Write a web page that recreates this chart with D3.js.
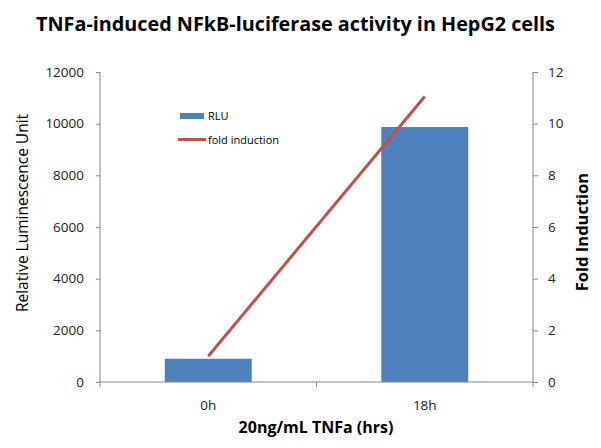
<!DOCTYPE html>
<html><head><meta charset="utf-8">
<script src="https://cdn.jsdelivr.net/npm/d3@7"></script>
<style>body{margin:0;background:#fff}svg{display:block}text{font-family:"Open Sans","Noto Sans",sans-serif}</style>
</head><body><svg id="c" width="601" height="448"></svg>
<script>
const categories = ["0h", "18h"];
const rluValues = [900, 9870];
const foldValues = [1.0, 11.05];
const leftTicks = [0, 2000, 4000, 6000, 8000, 10000, 12000];
const rightTicks = [0, 2, 4, 6, 8, 10, 12];
const titleText = "TNFa-induced NFkB-luciferase activity in HepG2 cells";

const svg = d3.select("#c");
const m = {l: 100, r: 533, t: 72, b: 382};
const axisColor = "#868686";
const xc = d3.scaleBand().domain(categories).range([m.l, m.r]);
const yL = d3.scaleLinear().domain([0, 12000]).range([m.b, m.t]);
const yR = d3.scaleLinear().domain([0, 12]).range([m.b, m.t]);

svg.append("text").attr("x", 295.5).attr("y", 31).attr("text-anchor", "middle")
  .attr("font-size", 19.8).attr("font-weight", "bold").attr("fill", "#000").text(titleText);

// bars
svg.selectAll("rect.bar").data(categories).enter().append("rect")
  .attr("x", d => xc(d) + xc.bandwidth()/2 - 43.5).attr("width", 87)
  .attr("y", (d,i) => yL(rluValues[i])).attr("height", (d,i) => m.b - yL(rluValues[i]))
  .attr("fill", "#4F81BD");

// axes
const gl = svg.append("g").attr("transform", `translate(${m.l},0)`)
  .call(d3.axisLeft(yL).tickValues(leftTicks).tickSize(4).tickPadding(12).tickFormat(d3.format("d")));
const gr = svg.append("g").attr("transform", `translate(${m.r},0)`)
  .call(d3.axisRight(yR).tickValues(rightTicks).tickSize(5).tickPadding(10).tickFormat(d3.format("d")));
const gx = svg.append("g").attr("transform", `translate(0,${m.b})`)
  .call(d3.axisBottom(xc).tickSize(0).tickPadding(18));
svg.selectAll("line.bt").data([m.l, (m.l+m.r)/2, m.r]).enter().append("line")
  .attr("x1", d => d).attr("x2", d => d).attr("y1", m.b).attr("y2", m.b + 5)
  .attr("stroke", axisColor);
[gl, gr, gx].forEach(g => {
  g.select(".domain").attr("stroke", axisColor);
  g.selectAll(".tick line").attr("stroke", axisColor);
  g.selectAll(".tick text").attr("font-size", 13.5).attr("fill", "#222");
});
gl.select(".domain").attr("d", `M0,${m.t}V${m.b}`);
gr.select(".domain").attr("d", `M0,${m.t}V${m.b}`);
gx.select(".domain").attr("d", `M${m.l},0H${m.r}`);

// line
const line = d3.line().x((d,i) => xc(categories[i]) + xc.bandwidth()/2).y(d => yR(d));
svg.append("path").datum(foldValues).attr("d", line).attr("fill", "none")
  .attr("stroke", "#C0504D").attr("stroke-width", 3);

// axis titles
svg.append("text").attr("transform", "translate(28,213) rotate(-90)").attr("text-anchor", "middle")
  .attr("font-size", 15.5).attr("fill", "#000").text("Relative Luminescence Unit");
svg.append("text").attr("transform", "translate(588,232) rotate(-90)").attr("text-anchor", "middle")
  .attr("font-size", 16.5).attr("font-weight", "bold").attr("fill", "#000").text("Fold Induction");
svg.append("text").attr("x", 316).attr("y", 433).attr("text-anchor", "middle")
  .attr("font-size", 16).attr("font-weight", "bold").attr("fill", "#000").text("20ng/mL TNFa (hrs)");

// legend
const lg = svg.append("g");
lg.append("rect").attr("x", 180).attr("y", 113).attr("width", 24).attr("height", 6).attr("fill", "#4F81BD");
lg.append("text").attr("x", 208).attr("y", 120).attr("font-size", 11).text("RLU");
lg.append("line").attr("x1", 178).attr("x2", 206).attr("y1", 139.5).attr("y2", 139.5)
  .attr("stroke", "#C0504D").attr("stroke-width", 3);
lg.append("text").attr("x", 208).attr("y", 143.5).attr("font-size", 11).text("fold induction");
</script></body></html>
